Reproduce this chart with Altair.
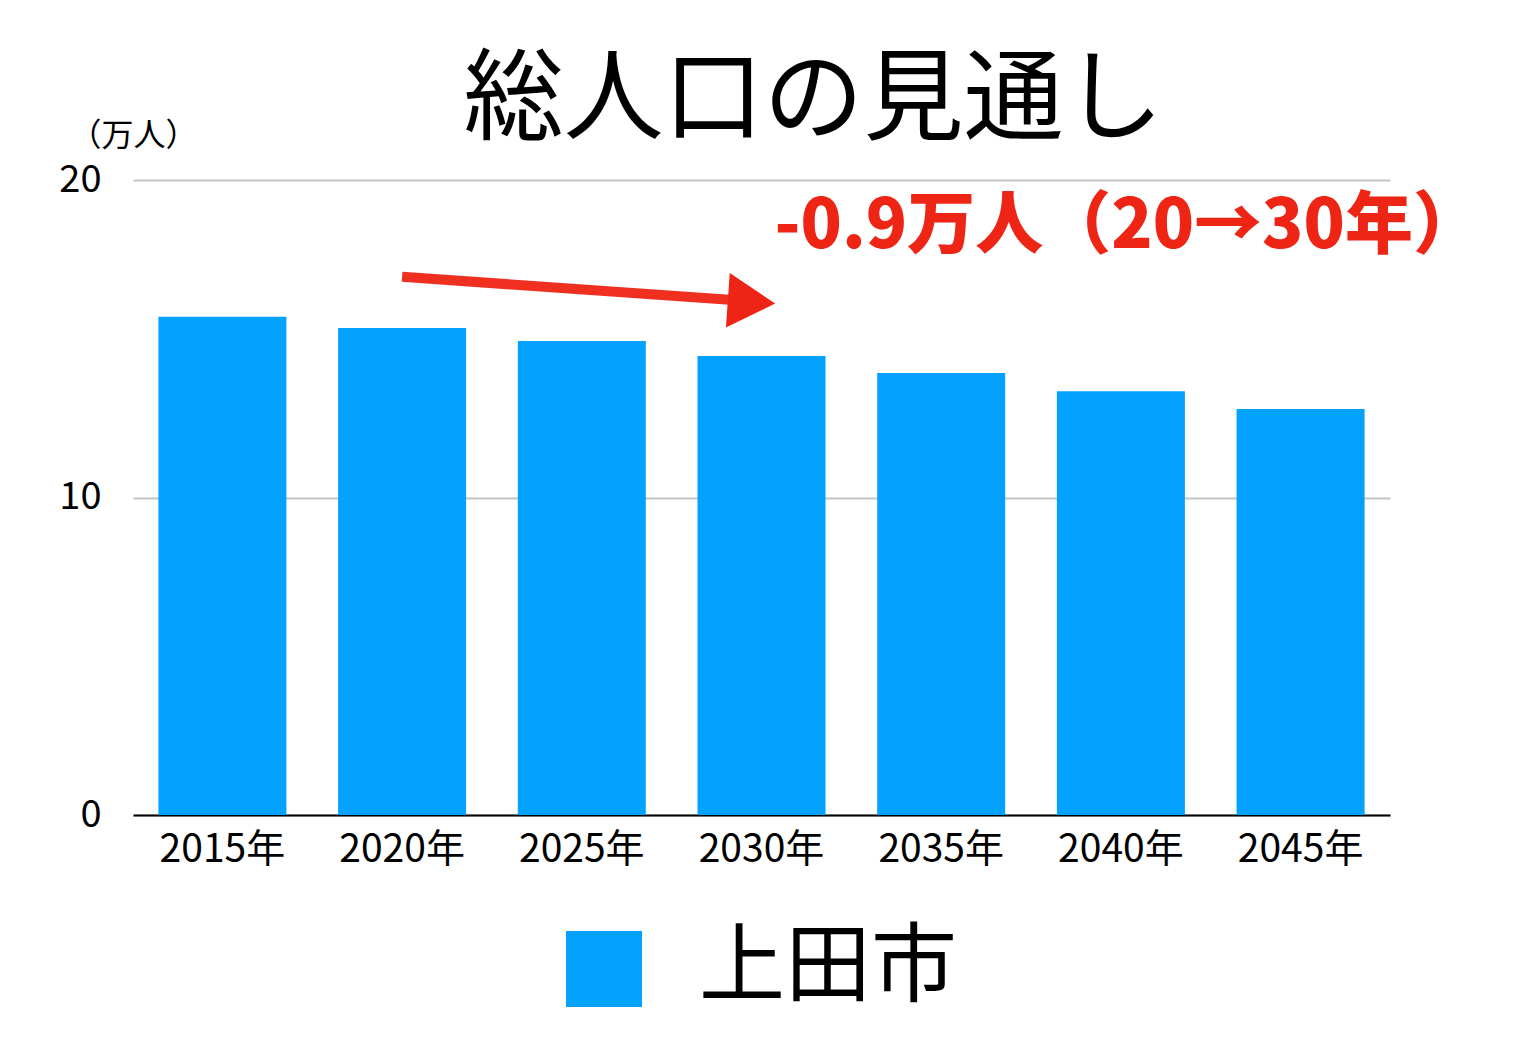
import altair as alt
import pandas as pd

years = ["2015年", "2020年", "2025年", "2030年", "2035年", "2040年", "2045年"]
population = [15.69, 15.34, 14.93, 14.46, 13.92, 13.35, 12.79]
city = "上田市"

arrow_years = ["2020年", "2030年"]
arrow_values = [16.95, 16.16]
note_text = "-0.9万人（20→30年）"
note_year = "2030年"
note_value = 18.5

FONT = "Noto Sans CJK JP"
BLUE = "#03a2fe"
RED = "#ee2414"

bars_df = pd.DataFrame({"year": years, "value": population, "city": city})
arrow_df = pd.DataFrame({"year": arrow_years, "value": arrow_values})
head_df = arrow_df.tail(1)
note_df = pd.DataFrame({"year": [note_year], "value": [note_value], "label": [note_text]})

x_enc = alt.X(
    "year:N",
    sort=years,
    title=None,
    scale=alt.Scale(paddingInner=0.285, paddingOuter=0.14),
    axis=alt.Axis(
        labelAngle=0, labelFontSize=39, labelFont=FONT, labelColor="#000",
        labelPadding=15, ticks=False, domainColor="#000", domainWidth=2,
        grid=False,
    ),
)
y_enc = alt.Y(
    "value:Q",
    scale=alt.Scale(domain=[0, 20]),
    axis=alt.Axis(
        values=[0, 10, 20], title="（万人）", titleAngle=0, titleFont=FONT,
        titleFontSize=32, titleFontWeight="normal", titleAlign="center",
        titleBaseline="middle", titleX=0, titleY=-45, titleColor="#000",
        labelFontSize=38, labelFont=FONT, labelColor="#000", labelPadding=32,
        ticks=False, domain=False, gridColor="#c4c4c4", gridWidth=2,
    ),
)

bars = alt.Chart(bars_df).mark_bar(size=128).encode(
    x=x_enc,
    y=y_enc,
    color=alt.Color(
        "city:N",
        scale=alt.Scale(range=[BLUE]),
        legend=alt.Legend(
            title=None, orient="none", legendX=428, legendY=746, padding=0,
            symbolType="square", symbolSize=5776, symbolStrokeWidth=0,
            labelFontSize=86, labelFont=FONT, labelColor="#000", labelOffset=52,
            labelLimit=500,
        ),
    ),
)

shaft = alt.Chart(arrow_df).mark_line(color=RED, strokeWidth=10, opacity=0.95).encode(
    x=alt.X("year:N", sort=years), y="value:Q"
)
head = alt.Chart(head_df).mark_point(
    shape="triangle-right", size=3000, filled=True, color=RED, opacity=1,
    xOffset=-10, angle=4,
).encode(x=alt.X("year:N", sort=years), y="value:Q")

note = alt.Chart(note_df).mark_text(
    align="left", baseline="middle", dx=13, fontSize=68, fontWeight=900,
    font=FONT, color=RED,
).encode(x=alt.X("year:N", sort=years), y="value:Q", text="label:N")

chart = (
    alt.layer(bars, shaft, head, note)
    .properties(
        width=1257,
        height=635,
        background="white",
        title=alt.TitleParams(
            "総人口の見通し", fontSize=100, font=FONT, fontWeight="normal",
            color="#000", anchor="middle", dx=52, dy=54, offset=20,
        ),
        autosize=alt.AutoSizeParams(type="none"),
        padding={"left": 125, "top": 172, "right": 130, "bottom": 230},
    )
    .configure_view(strokeWidth=0, stroke=None)
)

chart.save("out.html", embed_options={"renderer": "svg", "actions": False})
